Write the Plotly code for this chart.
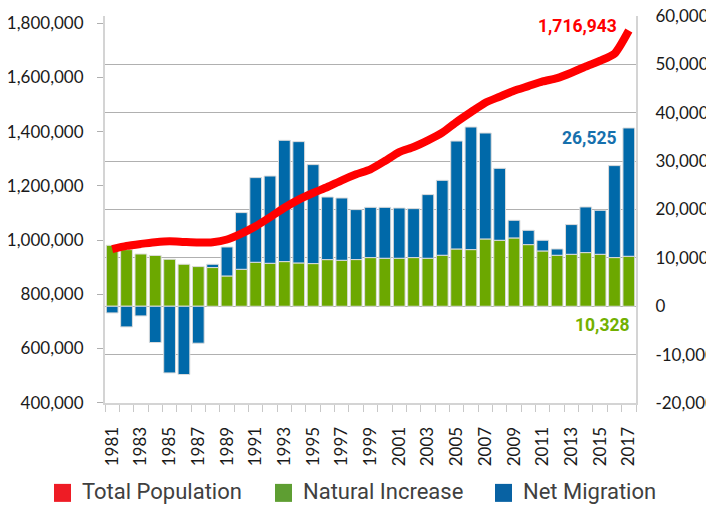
import plotly.graph_objects as go

years = list(range(1981, 2018))

natural_increase = [12600, 11700, 10800, 10500, 9710, 8680, 8200, 8000, 6260, 7640,
                    9090, 8880, 9230, 8950, 8820, 9640, 9500, 9650, 10060, 9920,
                    9920, 10060, 9920, 10540, 11840, 11710, 13910, 13640, 14120, 12740,
                    11430, 10540, 10740, 11090, 10740, 10060, 10328]

net_migration = [-1380, -4270, -2000, -7500, -13780, -14110, -7640, 680, 5990, 11720,
                 17500, 18040, 25070, 25080, 20460, 12940, 12880, 10330, 10390, 10530,
                 10390, 10120, 13160, 15490, 22310, 25340, 21900, 14870, 3650, 2960,
                 2210, 1300, 6140, 9430, 9090, 19010, 26525]

total_population = [966200, 978400, 985800, 992000, 995700, 993100, 990900, 992000, 1002000, 1024100,
                    1051000, 1084100, 1119100, 1149300, 1173600, 1195700, 1220400, 1242500, 1261000, 1291500,
                    1324700, 1343100, 1367800, 1396200, 1435900, 1472000, 1506700, 1528800, 1550900, 1567800,
                    1585100, 1597300, 1617200, 1640400, 1661400, 1687200, 1773000]

x_tick_years = list(range(1981, 2018, 2))
left_ticks = [400000, 600000, 800000, 1000000, 1200000, 1400000, 1600000, 1800000]
left_tick_labels = ['400,000', '600,000', '800,000', '1,000,000', '1,200,000',
                    '1,400,000', '1,600,000', '1,800,000']
right_ticks = [-20000, -10000, 0, 10000, 20000, 30000, 40000, 50000, 60000]
right_tick_labels = ['-20,000', '-10,000', '0', '10,000', '20,000', '30,000',
                     '40,000', '50,000', '60,000']

legend_names = ['Total Population', 'Natural Increase', 'Net Migration']
legend_colors = ['#ee1c25', '#5e9e32', '#0862a3']

RED = '#ff0000'
GREEN = '#6ca800'
BLUE = '#0069a9'
TICK_FONT = dict(family='Lato', size=17, color='#1a1a1a')

fig = go.Figure()

# bars live on the right-hand axis (primary), the line on an overlay so it draws on top
fig.add_trace(go.Bar(x=years, y=natural_increase, name='Natural Increase',
                     marker=dict(color=GREEN, line=dict(color='#dcdcdc', width=1))))
fig.add_trace(go.Bar(x=years, y=net_migration, name='Net Migration',
                     marker=dict(color=BLUE, line=dict(color='#dcdcdc', width=1))))
fig.add_trace(go.Scatter(x=years, y=total_population, name='Total Population',
                         mode='lines', yaxis='y2',
                         line=dict(color=RED, width=8, shape='spline', smoothing=0.6)))

# the page body adds an 8px offset, so the margins are pulled in to compensate
fig.update_layout(
    width=714, height=507,
    margin=dict(l=97, r=86, t=8, b=112),
    paper_bgcolor='white', plot_bgcolor='white',
    barmode='relative', bargap=0.18,
    showlegend=False,
    xaxis=dict(
        range=[1980.5, 2017.5], automargin=False,
        tickmode='array', tickvals=x_tick_years, ticktext=[str(y) for y in x_tick_years],
        tickangle=-90, tickfont=TICK_FONT, ticks='', ticklabelstandoff=15,
        ticklabeloverflow='allow',
        showgrid=False, zeroline=False,
        showline=True, linecolor='#d4d4d4', linewidth=2,
        minor=dict(tick0=0.5, dtick=1, ticks='outside', ticklen=7, tickcolor='#c8c8c8', tickwidth=1),
    ),
    yaxis=dict(
        side='right', range=[-20000, 60000], automargin=False,
        tickmode='array', tickvals=right_ticks, ticktext=right_tick_labels,
        tickfont=TICK_FONT, ticks='', ticklabelstandoff=14,
        ticklabeloverflow='allow',
        showgrid=True, gridcolor='#b0b0b0', gridwidth=1,
        zeroline=True, zerolinecolor='#b0b0b0', zerolinewidth=1,
        showline=True, linecolor='#d4d4d4', linewidth=2,
    ),
    yaxis2=dict(
        overlaying='y', side='left', range=[398900, 1826500], automargin=False,
        tickmode='array', tickvals=left_ticks, ticktext=left_tick_labels,
        tickfont=TICK_FONT, ticks='outside', ticklen=6, tickcolor='#b0b0b0',
        ticklabelstandoff=10, ticklabeloverflow='allow',
        showgrid=False, zeroline=False,
        showline=True, linecolor='#d4d4d4', linewidth=2,
    ),
)

# end-of-series value labels
fig.add_annotation(x=2016.3, xanchor='right', y=0.975, yref='paper', yanchor='middle',
                   text='<b>1,716,943</b>', showarrow=False,
                   font=dict(family='Roboto', size=17.5, color=RED))
fig.add_annotation(x=2016.3, xanchor='right', y=0.686, yref='paper', yanchor='middle',
                   text='<b>26,525</b>', showarrow=False,
                   font=dict(family='Roboto', size=17.5, color='#1670ad'))
fig.add_annotation(x=2017.2, xanchor='right', y=0.201, yref='paper', yanchor='middle',
                   text='<b>10,328</b>', showarrow=False,
                   font=dict(family='Roboto', size=17.5, color='#72b000'))

# hand-drawn legend with big square swatches
swatch_x = [-0.096, 0.3202, 0.7345]
for name, color, sx in zip(legend_names, legend_colors, swatch_x):
    fig.add_shape(type='rect', xref='paper', yref='paper',
                  x0=sx, x1=sx + 0.032, y0=-0.2555, y1=-0.209,
                  fillcolor=color, line=dict(width=0))
    fig.add_annotation(xref='paper', yref='paper', x=sx + 0.0489, xanchor='left',
                       y=-0.2297, yanchor='middle', text=name, showarrow=False,
                       font=dict(family='Roboto', size=22, color='#404040'))

fig.write_html("out.html")
